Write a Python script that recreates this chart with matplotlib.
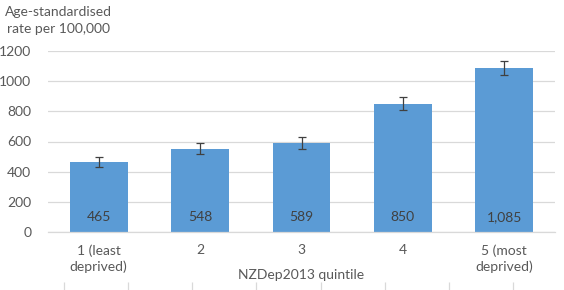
import matplotlib
matplotlib.use("Agg")
import matplotlib.pyplot as plt
import numpy as np

categories = ["1 (least\ndeprived)", "2", "3", "4", "5 (most\ndeprived)"]
rates = [465, 548, 589, 850, 1085]
rate_labels = ["465", "548", "589", "850", "1,085"]
ci_lower = [433, 514, 553, 810, 1040]
ci_upper = [500, 590, 630, 893, 1133]
y_ticks = [0, 200, 400, 600, 800, 1000, 1200]

plt.rcParams['font.family'] = ['Lato', 'DejaVu Sans']
text_col = "#595959"

fig = plt.figure(figsize=(5.64, 2.90), dpi=100)
ax = fig.add_axes([48/564, 1-232/290, (555-48)/564, (232-51)/290])

x = np.arange(len(categories))
err = [np.array(rates) - np.array(ci_lower), np.array(ci_upper) - np.array(rates)]
ax.bar(x, rates, width=0.57, color="#5b9bd5", zorder=2)
ax.errorbar(x, rates, yerr=err, fmt='none', ecolor="#404040", elinewidth=0.9,
            capsize=3, capthick=0.9, zorder=3)

for xi, lab in zip(x, rate_labels):
    ax.text(xi, 100, lab, ha='center', va='center', fontsize=10, color="#404040", zorder=4)

ax.set_xlim(-0.5, len(categories) - 0.5)
ax.set_ylim(0, 1200)
ax.set_yticks(y_ticks)
ax.set_yticklabels([str(v) for v in y_ticks], fontsize=10, color=text_col)
ax.set_xticks(x)
ax.set_xticklabels(categories, fontsize=10, color=text_col, linespacing=1.35)
ax.tick_params(axis='both', length=0)
ax.tick_params(axis='y', pad=12)
ax.tick_params(axis='x', pad=9)
ax.yaxis.grid(True, color="#d9d9d9", linewidth=0.9, zorder=0)
ax.set_axisbelow(True)
for s in ["top", "right", "left"]:
    ax.spines[s].set_visible(False)
ax.spines["bottom"].set_color("#d9d9d9")
ax.spines["bottom"].set_linewidth(0.9)

ax.set_xlabel("NZDep2013 quintile", fontsize=10, color=text_col, labelpad=-3)
fig.text(5/564, 1-12/290, "Age-standardised", fontsize=10, color=text_col, va='center', ha='left')
fig.text(7/564, 1-29/290, "rate per 100,000", fontsize=10, color=text_col, va='center', ha='left')

# faint tick marks along the bottom edge
bx = fig.add_axes([0, 0, 1, 6/290])
bx.set_xlim(0, 564)
bx.set_ylim(0, 1)
bx.set_xticks(np.arange(64.1, 564, 64.1))
bx.set_xticklabels([])
bx.tick_params(axis='x', direction='in', length=6, color="#d9d9d9", width=0.9)
bx.set_yticks([])
for s in bx.spines.values():
    s.set_visible(False)
bx.patch.set_alpha(0)

fig.savefig("out.png", dpi=100)
